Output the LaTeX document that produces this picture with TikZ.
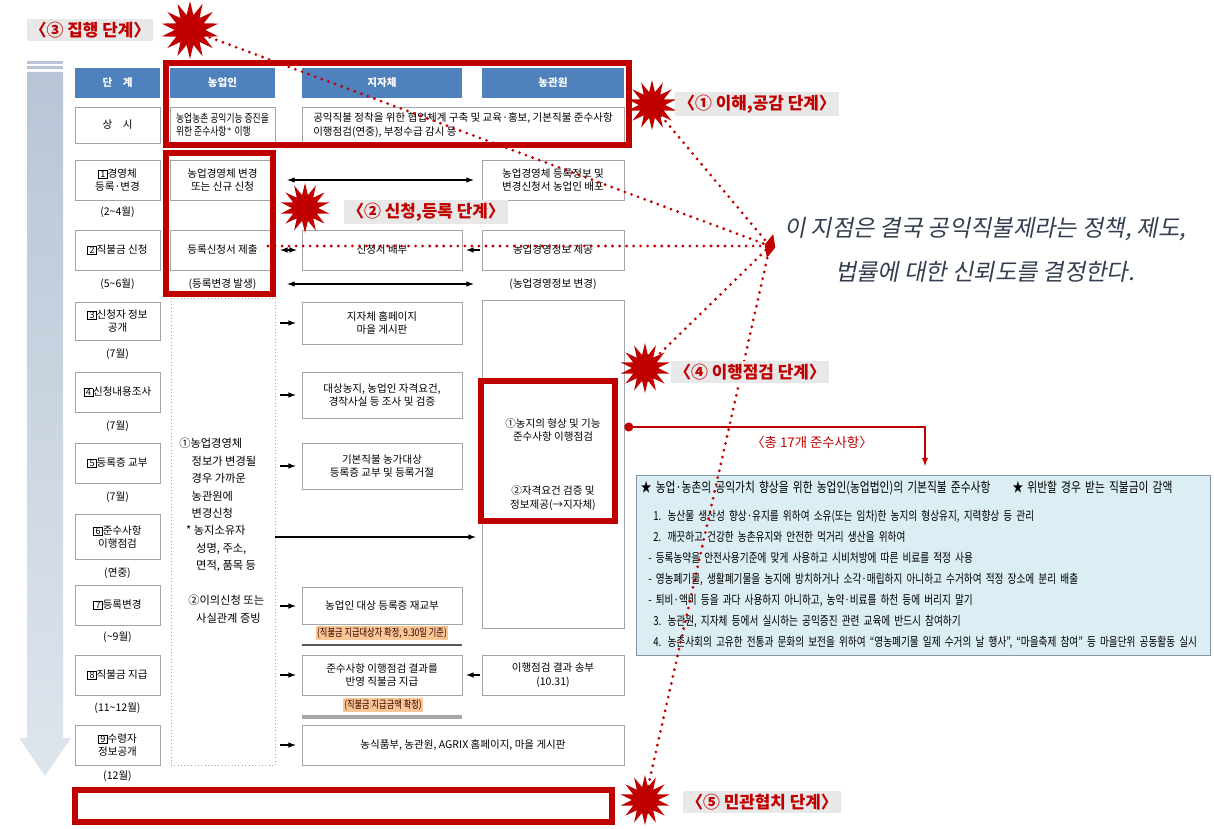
\documentclass[tikz,border=0pt]{standalone}
\usepackage{fontspec}
\setmainfont{Noto Sans CJK KR}
\newfontfamily\narrowfont[FakeStretch=0.78]{Noto Sans CJK KR}
\newfontfamily\callfont[FakeSlant=0.2]{Noto Sans CJK KR}
\usetikzlibrary{arrows,shapes.geometric}
\usepackage{xcolor}

\definecolor{hdrblue}{RGB}{79,129,189}
\definecolor{boxgray}{RGB}{165,165,165}
\definecolor{deepred}{RGB}{192,0,0}
\definecolor{lblgray}{RGB}{232,232,232}
\definecolor{notefill}{RGB}{219,238,243}
\definecolor{noteline}{RGB}{130,150,165}
\definecolor{peach}{RGB}{249,198,150}
\definecolor{shaftblue}{RGB}{184,197,214}
\definecolor{calltext}{RGB}{50,62,80}

\newcommand\cellsize{\fontsize{7.5}{9.5}\selectfont}
\newcommand\bnum[1]{{\setlength\fboxsep{0.3pt}\setlength\fboxrule{0.4pt}\fbox{\makebox[0.7em]{\fontsize{6.5}{6.5}\selectfont #1}}}}

\tikzset{
    hdr/.style={fill=hdrblue, text=white, font=\bfseries\cellsize, minimum height=0.75cm, inner sep=0pt},
    cell/.style={draw=boxgray, fill=white, align=center, font=\cellsize, inner sep=1pt, minimum height=1cm},
    stagecell/.style={cell, minimum width=2.125cm},
    farmcell/.style={cell, minimum width=2.625cm},
    citycell/.style={cell, minimum width=4cm},
    agencycell/.style={cell, minimum width=3.55cm},
    widecell/.style={cell, minimum width=8.05cm},
    month/.style={font=\cellsize, inner sep=0pt},
    redframe/.style={draw=deepred, line width=4.3pt},
    flow/.style={line width=0.8pt},
    trace/.style={draw=deepred, line width=2.2pt, line cap=round, dash pattern=on 0pt off 5pt},
    burst/.style={star, star points=14, star point ratio=1.9, fill=deepred, inner sep=0pt, minimum size=1.25cm},
    stagelabel/.style={fill=lblgray, text=deepred, font=\bfseries\fontsize{12}{14}\selectfont, inner sep=2pt},
    peachtag/.style={fill=peach, text=black!80!red, font=\narrowfont\fontsize{7.5}{8.5}\selectfont, inner sep=1pt},
}

\begin{document}
\begin{tikzpicture}[x=0.025cm, y=-0.025cm, >=latex]
    \useasboundingbox (0,0) rectangle (1214,828);

    \fill[shaftblue] (27,61) rectangle (63,64);
    \fill[shaftblue] (27,66) rectangle (63,69);
    \shade[top color=shaftblue, bottom color=shaftblue!45] (27,72) -- (63,72) -- (63,738) -- (71,738) -- (45,776) -- (19,738) -- (27,738) -- cycle;

    \node[hdr, minimum width=2.125cm](H0) at (117.5,83) {단\quad 계};
    \node[hdr, minimum width=2.625cm](H1) at (222.5,83) {농업인};
    \node[hdr, minimum width=4cm](H2) at (382,83) {지자체};
    \node[hdr, minimum width=3.55cm](H3) at (553,83) {농관원};

    \node[stagecell, minimum height=0.9cm](T0) at (117.5,125) {상\quad 시};
    \node[farmcell, minimum height=0.9cm, align=left, font=\narrowfont\fontsize{8}{9.5}\selectfont](F0) at (222.5,125) {농업농촌 공익기능 증진을\\위한 준수사항$^{*}$ 이행};
    \node[widecell, minimum height=0.9cm, align=left](C0) at (463,125) {공익직불 정착을 위한 협업체계 구축 및 교육·홍보, 기본직불 준수사항\\이행점검(연중), 부정수급 감시 등};

    \node[stagecell](T1) at (117.5,180) {\bnum{1}경영체\\등록·변경};
    \node[month](M1) at (117.5,212) {(2\textasciitilde 4월)};
    \node[farmcell](F1) at (222.5,180) {농업경영체 변경\\또는 신규 신청};
    \node[agencycell](A1) at (553,180) {농업경영체 등록정보 및\\변경신청서 농업인 배포};

    \node[stagecell](T2) at (117.5,250) {\bnum{2}직불금 신청};
    \node[month](M2) at (117.5,284) {(5\textasciitilde 6월)};
    \node[farmcell](F2) at (222.5,250) {등록신청서 제출};
    \node[month](FN) at (222.5,284) {(등록변경 발생)};
    \node[citycell](C2) at (382,250) {신청서 배부};
    \node[agencycell](A2) at (553,250) {농업경영정보 제공};
    \node[month](AN) at (553,284) {(농업경영정보 변경)};

    \node[draw=boxgray, dotted, minimum width=2.6cm, minimum height=11.675cm, inner sep=0pt](FB) at (223,531.5) {};
    \node[anchor=north west, align=left, inner sep=0pt, font=\fontsize{8}{12.4}\selectfont](FT) at (179,438) {①농업경영체\\
        \hspace*{1.1em}정보가 변경될\\
        \hspace*{1.1em}경우 가까운\\
        \hspace*{1.1em}농관원에\\
        \hspace*{1.1em}변경신청\\
        \hspace*{0.6em}* 농지소유자\\
        \hspace*{1.5em}성명, 주소,\\
        \hspace*{1.5em}면적, 품목 등\\[12.4pt]
        \hspace*{0.8em}②이의신청 또는\\
        \hspace*{1.5em}사실관계 증빙};

    \node[stagecell, minimum height=0.95cm](T3) at (117.5,321) {\bnum{3}신청자 정보\\공개};
    \node[month](M3) at (117.5,354) {(7월)};
    \node[citycell, minimum height=1.05cm](C3) at (382,323) {지자체 홈페이지\\마을 게시판};
    \node[agencycell, minimum height=8.2cm](A3) at (553,464) {};
    \node[font=\cellsize, align=center](A4a) at (553,430) {①농지의 형상 및 기능\\준수사항 이행점검};
    \node[font=\cellsize, align=center](A4b) at (553,498) {②자격요건 검증 및\\정보제공(→지자체)};

    \node[stagecell](T4) at (117.5,392) {\bnum{4}신청내용조사};
    \node[month](M4) at (117.5,426) {(7월)};
    \node[citycell, minimum height=1.15cm](C4) at (382,395) {대상농지, 농업인 자격요건,\\경작사실 등 조사 및 검증};

    \node[stagecell](T5) at (117.5,463) {\bnum{5}등록증 교부};
    \node[month](M5) at (117.5,497) {(7월)};
    \node[citycell, minimum height=1.15cm](C5) at (382,466) {기본직불 농가대상\\등록증 교부 및 등록거절};

    \node[stagecell, minimum height=1.125cm](T6) at (117.5,537) {\bnum{6}준수사항\\이행점검};
    \node[month](M6) at (117.5,573) {(연중)};

    \node[stagecell](T7) at (117.5,605) {\bnum{7}등록변경};
    \node[month](M7) at (117.5,637) {(\textasciitilde 9월)};
    \node[citycell, minimum height=0.925cm](C7) at (382,606) {농업인 대상 등록증 재교부};
    \node[peachtag](G7) at (382,633) {(직불금 지급대상자 확정, 9.30일 기준)};

    \node[stagecell](T8) at (117.5,675) {\bnum{8}직불금 지급};
    \node[month](M8) at (117.5,708) {(11\textasciitilde 12월)};
    \node[citycell](C8) at (382,675) {준수사항 이행점검 결과를\\반영 직불금 지급};
    \node[agencycell](A8) at (553,675) {이행점검 결과 송부\\(10.31)};
    \node[peachtag](G8) at (383,705) {(직불금 지급금액 확정)};

    \node[stagecell](T9) at (117.5,745) {\bnum{9}수령자\\정보공개};
    \node[month](M9) at (117.5,776) {(12월)};
    \node[widecell](C9) at (463,745) {농식품부, 농관원, AGRIX 홈페이지, 마을 게시판};

    \draw[line width=1.6pt, black!65] (C7.west |- 0,645) -- (C7.east |- 0,645);
    \draw[line width=2.6pt, black!35] (C8.west |- 0,717) -- (C8.east |- 0,717);

    \path[flow]
        (F1) edge [<->, shorten <=0.3cm, shorten >=0.2cm] (A1)
        (F2) edge [<->, shorten <=0.125cm, shorten >=0.125cm] (C2)
        (A2) edge [->, shorten <=0.05cm, shorten >=0.1cm] (C2)
        (FN -| F2.east) edge [<->, shorten <=0.3cm, shorten >=0.2cm] (AN -| A2.west)
        (FB.east |- C3) edge [->, shorten <=0.125cm, shorten >=0.15cm] (C3)
        (FB.east |- C4) edge [->, shorten <=0.125cm, shorten >=0.15cm] (C4)
        (FB.east |- C5) edge [->, shorten <=0.125cm, shorten >=0.15cm] (C5)
        (FB.east |- T6) edge [->, shorten >=0.15cm] (A3.west |- T6)
        (FB.east |- C7) edge [->, shorten <=0.125cm, shorten >=0.15cm] (C7)
        (FB.east |- C8) edge [->, shorten <=0.125cm, shorten >=0.15cm] (C8)
        (A8) edge [->, shorten <=0.05cm, shorten >=0.1cm] (C8)
        (FB.east |- C9) edge [->, shorten <=0.125cm, shorten >=0.15cm] (C9)
        ;

    \draw[redframe] (166,63) rectangle (629,145);
    \draw[redframe] (166,153) rectangle (273,294);
    \draw[redframe] (481,381) rectangle (615,521);
    \draw[redframe] (75,790) rectangle (612,822);

    \node[draw=noteline, fill=notefill, minimum width=14.35cm, minimum height=4.5cm, text width=14.1cm, align=left, inner sep=3pt, font=\narrowfont\fontsize{8.8}{14.9}\selectfont](R) at (923,565) {%
        {\fontsize{9.8}{14.9}\selectfont ★ 농업·농촌의 공익가치 향상을 위한 농업인(농업법인)의 기본직불 준수사항\hspace{1.6em}★ 위반할 경우 받는 직불금이 감액}\\[5pt]
        \hspace*{1em}1. 농산물 생산성 향상·유지를 위하여 소유(또는 임차)한 농지의 형상유지, 지력향상 등 관리\\
        \hspace*{1em}2. 깨끗하고 건강한 농촌유지와 안전한 먹거리 생산을 위하여\\
        \hspace*{0.6em}- 등록농약을 안전사용기준에 맞게 사용하고 시비처방에 따른 비료를 적정 사용\\
        \hspace*{0.6em}- 영농폐기물, 생활폐기물을 농지에 방치하거나 소각·매립하지 아니하고 수거하여 적정 장소에 분리 배출\\
        \hspace*{0.6em}- 퇴비·액비 등을 과다 사용하지 아니하고, 농약·비료를 하천 등에 버리지 말기\\
        \hspace*{1em}3. 농관원, 지자체 등에서 실시하는 공익증진 관련 교육에 반드시 참여하기\\
        \hspace*{1em}4. 농촌사회의 고유한 전통과 문화의 보전을 위하여 “영농폐기물 일제 수거의 날 행사”, “마을축제 참여” 등 마을단위 공동활동 실시};

    \coordinate (N1) at (925,466);
    \draw[deepred, line width=1pt, *->] (A3.east |- 0,427) -| (N1);
    \node[text=deepred, font=\fontsize{9.5}{11}\selectfont](K) at (812,442) {〈총 17개 준수사항〉};

    \coordinate (focus) at (770,246);
    \coordinate (P3) at (190,30);
    \coordinate (P1) at (652,105);
    \coordinate (P2) at (268,246);
    \coordinate (P4) at (645,368);
    \coordinate (P5) at (645,800);
    \draw[trace] (P3) -- (focus);
    \draw[trace] (P1) -- (focus);
    \draw[trace] (P2) -- (focus);
    \draw[trace] (P4) -- (focus);
    \draw[trace] (P5) -- (focus);

    \node[burst, minimum size=1.45cm](B3) at (P3) {};
    \node[burst](B1) at (P1) {};
    \node[burst](B2) at (305,208) {};
    \node[burst](B4) at (P4) {};
    \node[burst](B5) at (P5) {};

    \node[stagelabel](L3) at (90,30) {〈③ 집행 단계〉};
    \node[stagelabel](L1) at (757,104) {〈① 이해,공감 단계〉};
    \node[stagelabel](L2) at (426,212) {〈② 신청,등록 단계〉};
    \node[stagelabel](L4) at (750,372) {〈④ 이행점검 단계〉};
    \node[stagelabel](L5) at (762,802) {〈⑤ 민관협치 단계〉};

    \node[fill=deepred, diamond, inner sep=0pt, minimum width=0.28cm, minimum height=0.62cm, rotate=-15](X) at (focus) {};
    \node[text=calltext, align=center, font=\callfont\fontsize{16.5}{31}\selectfont](Q) at (985,250) {이 지점은 결국 공익직불제라는 정책, 제도,\\법률에 대한 신뢰도를 결정한다.};
\end{tikzpicture}
\end{document}
